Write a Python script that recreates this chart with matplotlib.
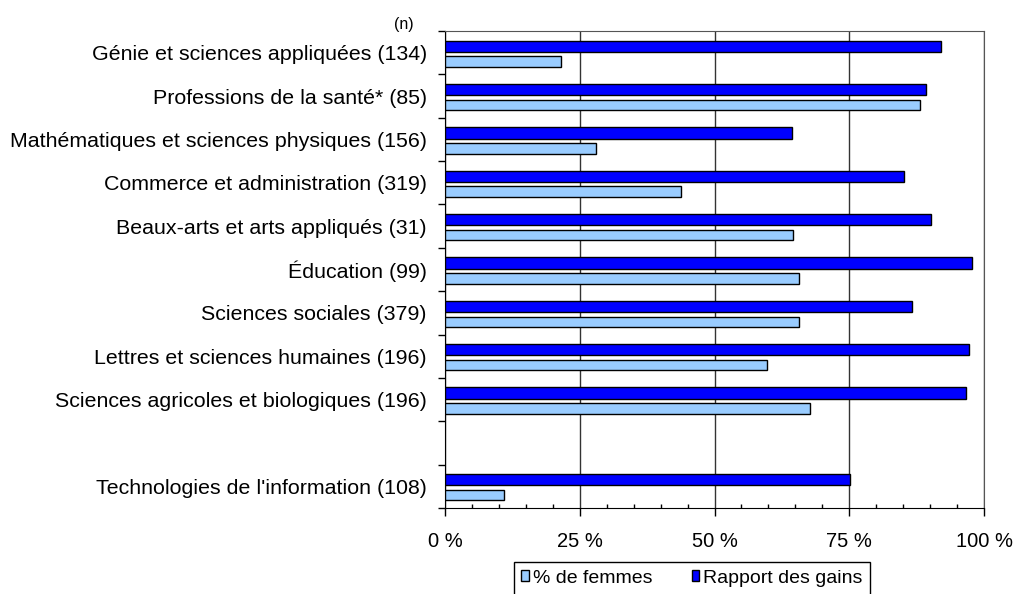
import matplotlib
matplotlib.use("Agg")
import matplotlib.pyplot as plt
import numpy as np
from matplotlib.ticker import FixedLocator, MultipleLocator

plt.rcParams['font.family'] = ['Liberation Sans', 'DejaVu Sans']

# values (percent)
categories = [
    "Génie et sciences appliquées (134)",
    "Professions de la santé* (85)",
    "Mathématiques et sciences physiques (156)",
    "Commerce et administration (319)",
    "Beaux-arts et arts appliqués (31)",
    "Éducation (99)",
    "Sciences sociales (379)",
    "Lettres et sciences humaines (196)",
    "Sciences agricoles et biologiques (196)",
    "Technologies de l'information (108)",
]
femmes = [21.6, 88.1, 28.0, 43.8, 64.6, 65.7, 65.7, 59.8, 67.8, 11.0]
rapport = [92.0, 89.2, 64.3, 85.2, 90.1, 97.7, 86.6, 97.3, 96.6, 75.1]
x_ticks = [0, 25, 50, 75, 100]

# one empty slot before the last category
pos = np.arange(len(categories), dtype=float)
pos[-1] += 1
n_slots = int(pos[-1]) + 1

fig = plt.figure(figsize=(10.19, 5.94), dpi=100)
ax = fig.add_axes([445 / 1019, 1 - 508 / 594, (984 - 445) / 1019, (508 - 31) / 594])

b_dark = ax.barh(pos - 0.15, rapport, height=0.26, color='#0000FF',
                 edgecolor='black', linewidth=1, zorder=3)
b_light = ax.barh(pos + 0.205, femmes, height=0.24, color='#99CCFF',
                  edgecolor='black', linewidth=1, zorder=3)

ax.set_xlim(0, 100)
ax.set_ylim(n_slots - 0.5, -0.5)

ax.set_yticks(pos, categories, fontsize=15.4)
ax.tick_params(axis='y', which='major', length=0, pad=13)
ax.yaxis.set_minor_locator(FixedLocator(np.arange(-0.5, n_slots, 1)))
ax.tick_params(axis='y', which='minor', length=5, direction='out', width=1)

ax.set_xticks(x_ticks, [f"{v} %" for v in x_ticks], fontsize=14.5)
ax.xaxis.set_minor_locator(MultipleLocator(5))
ax.tick_params(axis='x', which='major', length=6, direction='out', width=1, pad=11)
ax.tick_params(axis='x', which='minor', length=3, direction='in', width=1)

ax.xaxis.grid(True, which='major', color='#333333', linewidth=1)
ax.set_axisbelow(True)

for s in ['left', 'bottom']:
    ax.spines[s].set_color('black')
for s in ['top', 'right']:
    ax.spines[s].set_color('#555555')

fig.text(404 / 1019, 1 - 24 / 594, "(n)", ha='center', va='center', fontsize=11.5)

leg = ax.legend([b_light, b_dark], ["% de femmes", "Rapport des gains"],
                ncol=2, loc='upper center', bbox_to_anchor=(692 / 1019, 1 - 562 / 594),
                bbox_transform=fig.transFigure, fontsize=14, frameon=True,
                fancybox=False, edgecolor='black', framealpha=1,
                handlelength=0.4, handleheight=0.5, handletextpad=0.2,
                columnspacing=2.0, borderaxespad=0, borderpad=0.4)
leg.get_frame().set_linewidth(1)

fig.savefig("out.png", dpi=100)
